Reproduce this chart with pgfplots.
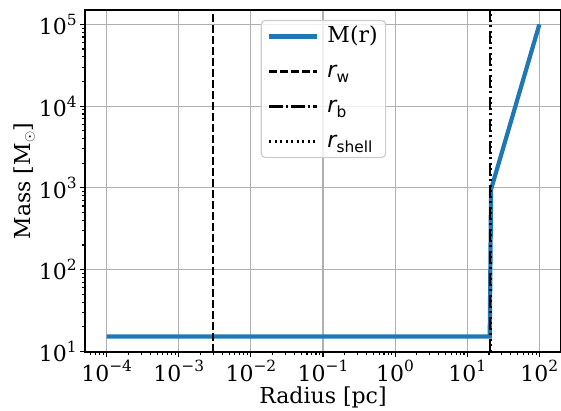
\documentclass[border=0pt]{standalone}
\usepackage{fontspec}
\setmainfont{DejaVu Serif}
\newfontfamily\dvs{DejaVu Sans}
\usepackage{pgfplots}
\pgfplotsset{compat=1.18}
\definecolor{mblue}{HTML}{1F77B4}
\definecolor{gridc}{HTML}{B0B0B0}
\definecolor{legc}{HTML}{CCCCCC}
\newcommand\tp[1]{10\raisebox{0.42em}{\fontsize{15.4}{16}\selectfont #1}}
\newcommand\sub[1]{\raisebox{-0.25em}{\fontsize{15.4}{16}\selectfont\dvs #1}}
\begin{document}
\begin{tikzpicture}
\begin{axis}[
  scale only axis,
  width=476pt, height=342pt,
  xmode=log, ymode=log,
  xmin=5.01e-5, xmax=199.5,
  ymin=9.8, ymax=1.5e5,
  axis line style={line width=1.1pt},
  every tick/.style={black, line width=1.1pt},
  tick align=outside,
  major tick length=4.9pt, minor tick length=2.8pt,
  xtick pos=bottom, ytick pos=left,
  xtick={1e-4,1e-3,1e-2,1e-1,1,10,100},
  xticklabels={\tp{−4},\tp{−3},\tp{−2},\tp{−1},\tp{0},\tp{1},\tp{2}},
  minor xtick={6e-5,7e-5,8e-5,9e-5,
    2e-4,3e-4,4e-4,5e-4,6e-4,7e-4,8e-4,9e-4,
    2e-3,3e-3,4e-3,5e-3,6e-3,7e-3,8e-3,9e-3,
    2e-2,3e-2,4e-2,5e-2,6e-2,7e-2,8e-2,9e-2,
    0.2,0.3,0.4,0.5,0.6,0.7,0.8,0.9,
    2,3,4,5,6,7,8,9,
    20,30,40,50,60,70,80,90,
    200},
  ytick={10,100,1000,10000,100000},
  yticklabels={\tp{1},\tp{2},\tp{3},\tp{4},\tp{5}},
  minor ytick={20,30,40,50,60,70,80,90,
    200,300,400,500,600,700,800,900,
    2000,3000,4000,5000,6000,7000,8000,9000,
    20000,30000,40000,50000,60000,70000,80000,90000},
  ticklabel style={font=\fontsize{22}{26}\selectfont},
  grid=major,
  major grid style={gridc, line width=1.1pt},
  minor grid style={draw=none},
  xlabel={Radius [pc]},
  ylabel={Mass [M$_\odot$]},
  label style={font=\fontsize{22}{26}\selectfont},
  xlabel style={yshift=1pt},
  ylabel style={yshift=-3pt},
  legend style={at={(0.501,0.971)}, anchor=north, draw=legc, line width=1.1pt,
    rounded corners=4pt, fill=white, fill opacity=0.8, text opacity=1,
    font=\fontsize{22}{26}\selectfont, inner xsep=6pt, inner ysep=3pt,
    row sep=9pt, column sep=6pt,
    nodes={inner sep=2pt, text height=17pt, text depth=5pt}},
  legend cell align=left,
  legend image code/.code={\draw[#1] (0pt,0pt) -- (48pt,0pt);},
]
\addplot[mblue, line width=4.2pt] coordinates {(1e-4,15.2) (20.5,15.2) (21.4,960) (100,1e5)};
\addlegendentry{M(r)}
\addplot[black, line width=2.1pt, dash pattern=on 7.7pt off 3.3pt] coordinates {(3.0e-3,9.8) (3.0e-3,1.5e5)};
\addlegendentry{{\dvs\itshape r}\sub{w}}
\addplot[black, line width=2.1pt, dash pattern=on 13.3pt off 3.3pt on 2.1pt off 3.3pt] coordinates {(20.5,9.8) (20.5,1.5e5)};
\addlegendentry{{\dvs\itshape r}\sub{b}}
\addplot[black, line width=2.1pt, dash pattern=on 2.1pt off 3.4pt] coordinates {(21.0,9.8) (21.0,1.5e5)};
\addlegendentry{{\dvs\itshape r}\sub{shell}}
\end{axis}
\pgfresetboundingbox
\path[use as bounding box] ([xshift=-85pt,yshift=-59pt]current axis.south west) rectangle ([xshift=476pt,yshift=352pt]current axis.south west);
\end{tikzpicture}
\end{document}
